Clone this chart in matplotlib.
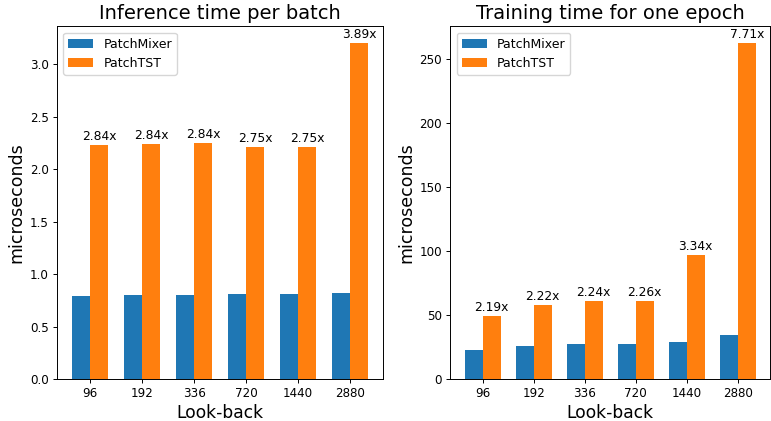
import matplotlib.pyplot as plt
import numpy as np

look_back = ["96", "192", "336", "720", "1440", "2880"]

# inference time per batch
infer_mixer = [0.787, 0.797, 0.797, 0.806, 0.806, 0.823]
infer_tst = [2.229, 2.238, 2.244, 2.212, 2.206, 3.20]
infer_ratio = ["2.84x", "2.84x", "2.84x", "2.75x", "2.75x", "3.89x"]

# training time for one epoch
train_mixer = [22.6, 26.1, 27.1, 27.1, 29.1, 34.1]
train_tst = [49.5, 57.9, 60.7, 61.2, 97.2, 262.7]
train_ratio = ["2.19x", "2.22x", "2.24x", "2.26x", "3.34x", "7.71x"]

plt.rcParams.update({"font.size": 8.6, "axes.linewidth": 0.7,
                     "xtick.major.width": 0.7, "ytick.major.width": 0.7,
                     "xtick.major.size": 3, "ytick.major.size": 3})


def draw_panel(ax, mixer, tst, ratios, title):
    x = np.arange(len(look_back))
    width = 0.35
    ax.bar(x - width / 2, mixer, width, label="PatchMixer", color="#1f77b4")
    bars = ax.bar(x + width / 2, tst, width, label="PatchTST", color="#ff7f0e")

    for bar, text in zip(bars, ratios):
        ax.annotate(
            text,
            xy=(bar.get_x() + bar.get_width() / 2, bar.get_height()),
            xytext=(0, 1.5),
            textcoords="offset points",
            ha="center",
            va="bottom",
            fontsize=8.8,
        )

    ax.set_xticks(x)
    ax.set_xticklabels(look_back)
    ax.tick_params(labelsize=8.6, pad=3)
    ax.set_xlabel("Look-back", fontsize=12.3, labelpad=3)
    ax.set_ylabel("microseconds", fontsize=12.5, labelpad=3)
    ax.set_title(title, fontsize=14, pad=5)
    ax.legend(loc="upper left", fontsize=9)


fig = plt.figure(figsize=(7.71, 4.21), dpi=100)
ax1 = fig.add_axes([0.074, 0.0998, 0.423, 0.8377])
ax2 = fig.add_axes([0.584, 0.0998, 0.415, 0.8377])

draw_panel(ax1, infer_mixer, infer_tst, infer_ratio, "Inference time per batch")
draw_panel(ax2, train_mixer, train_tst, train_ratio, "Training time for one epoch")

fig.savefig("out.png", dpi=100)
plt.close(fig)
